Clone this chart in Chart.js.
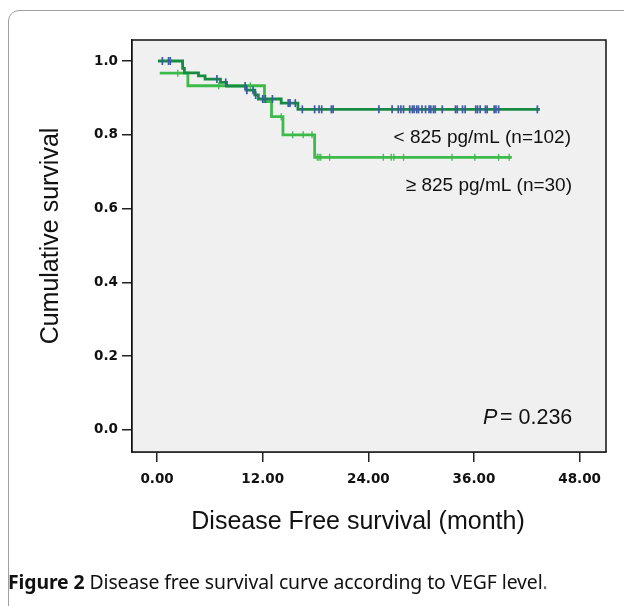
<!DOCTYPE html>
<html>
<head>
<meta charset="utf-8">
<script src="https://cdn.jsdelivr.net/npm/chart.js@4/dist/chart.umd.min.js"></script>
<style>
  html, body { margin: 0; padding: 0; background: #fff; overflow: hidden; }
  #wrap { position: relative; width: 624px; height: 606px; }
  #frame {
    position: absolute; left: 8px; top: 10px; width: 700px; height: 610px;
    border: 1px solid #a0a0a0; border-radius: 11px; box-sizing: border-box;
  }
  #chart { position: absolute; left: 0; top: 0; }
  #caption {
    position: absolute; left: 8px; top: 568px; font-family: "Noto Sans", sans-serif;
    font-size: 19.4px; color: #111; white-space: nowrap; letter-spacing: -0.1px;
  }
  #caption b { font-weight: 700; }
  #caption span { color: #666; }
</style>
</head>
<body>
<div id="wrap">
  <div id="frame"></div>
  <canvas id="chart" width="624" height="606"></canvas>
  <div id="caption"><b>Figure 2</b> Disease free survival curve according to VEGF level<span>.</span></div>
</div>
<script>
// < 825 pg/mL group (n=102): step times (months) and survival after each step
const lowTimes = [0.1, 2.9, 3.1, 4.7, 5.45, 7.2, 7.9, 10.1, 11.1, 11.5, 14.1, 16.0, 43.5];
const lowSurv = [1.0, 0.980, 0.968, 0.960, 0.951, 0.942, 0.932, 0.921, 0.908, 0.897, 0.886, 0.869, 0.869];
const lowCensor = [0.6, 1.3, 1.5, 6.8, 7.8, 10.0, 10.2, 10.9, 11.2, 12.0, 12.3, 13.1, 14.9, 15.1, 15.7,
    16.5, 17.9, 18.4, 18.7, 19.8, 20.0, 25.2, 26.7, 27.4, 27.7, 28.0, 28.7, 29.0, 29.2, 29.5, 29.7,
    30.1, 30.5, 30.9, 31.1, 31.4, 31.6, 32.4, 33.9, 34.1, 34.7, 35.0, 36.2, 36.4, 36.7, 37.3, 37.5,
    38.3, 38.5, 38.8, 43.2];

// >= 825 pg/mL group (n=30)
const highTimes = [0.3, 3.5, 12.2, 13.0, 14.3, 17.9, 40.3];
const highSurv = [0.967, 0.933, 0.890, 0.849, 0.800, 0.739, 0.739];
const highCensor = [2.35, 7.0, 10.6, 14.1, 15.4, 16.6, 17.6, 18.2, 18.4, 18.6, 19.6, 25.7, 26.6,
    26.9, 28.0, 33.5, 36.1, 38.8, 40.0];

const xTicks = [0, 12, 24, 36, 48];
const yTicks = [0, 0.2, 0.4, 0.6, 0.8, 1.0];

// survival level of a curve at time t (censor marks sit on the curve)
function levelAt(times, surv, t) {
    let s = surv[0];
    for (let i = 0; i < times.length; i++) {
        if (times[i] <= t) s = surv[i];
    }
    return s;
}

const lowLine = lowTimes.map((t, i) => ({ x: t, y: lowSurv[i] }));
const highLine = highTimes.map((t, i) => ({ x: t, y: highSurv[i] }));
const lowMarks = lowCensor.map(t => ({ x: t, y: levelAt(lowTimes, lowSurv, t) }));
const highMarks = highCensor.map(t => ({ x: t, y: levelAt(highTimes, highSurv, t) }));

const FONT = "'Liberation Sans', Arial, sans-serif";
const TICKFONT = "'DejaVu Sans', sans-serif";

const plotBox = {
    id: "plotBox",
    beforeDatasetsDraw(chart) {
        const a = chart.chartArea, ctx = chart.ctx;
        ctx.save();
        ctx.fillStyle = "#f0f0f0";
        ctx.fillRect(a.left, a.top, a.right - a.left, a.bottom - a.top);
        ctx.restore();
    },
    afterDraw(chart) {
        const a = chart.chartArea, ctx = chart.ctx;
        ctx.save();
        ctx.strokeStyle = "#111";
        ctx.lineWidth = 1.5;
        ctx.strokeRect(a.left, a.top, a.right - a.left, a.bottom - a.top);

        ctx.fillStyle = "#111";
        ctx.textBaseline = "middle";

        // axis titles
        ctx.textAlign = "center";
        ctx.font = "25px " + FONT;
        ctx.fillText("Disease Free survival (month)", 358, 522);
        ctx.save();
        ctx.translate(51, 236);
        ctx.rotate(-Math.PI / 2);
        ctx.fillText("Cumulative survival", 0, 0);
        ctx.restore();

        ctx.textAlign = "right";
        ctx.font = "19px " + FONT;
        ctx.fillText("< 825 pg/mL (n=102)", 571, 138);
        ctx.fillText("\u2265 825 pg/mL (n=30)", 572, 186);

        ctx.textAlign = "left";
        ctx.font = "italic 21.5px " + FONT;
        ctx.fillText("P", 483, 418);
        ctx.font = "21.5px " + FONT;
        ctx.fillText("= 0.236", 500, 418);
        ctx.restore();
    }
};

new Chart(document.getElementById("chart").getContext("2d"), {
    type: "line",
    data: {
        datasets: [
            {
                type: "scatter", data: lowMarks, showLine: false,
                pointStyle: "line", rotation: 90, pointRadius: 4, borderWidth: 1.7,
                borderColor: "#3d58aa", backgroundColor: "#3d58aa"
            },
            {
                type: "scatter", data: highMarks, showLine: false,
                pointStyle: "line", rotation: 90, pointRadius: 3.5, borderWidth: 1.3,
                borderColor: "#3cba4a", backgroundColor: "#3cba4a"
            },
            {
                data: lowLine, stepped: true, borderColor: "#178a44", borderWidth: 2.8,
                pointRadius: 0, fill: false
            },
            {
                data: highLine, stepped: true, borderColor: "#3cba4a", borderWidth: 2.8,
                pointRadius: 0, fill: false
            }
        ]
    },
    options: {
        responsive: false,
        animation: false,
        devicePixelRatio: 1,
        layout: { padding: { top: 40, right: 18, left: 0, bottom: 0 } },
        plugins: { legend: { display: false }, tooltip: { enabled: false } },
        scales: {
            x: {
                type: "linear", min: -2.85, max: 51,
                afterBuildTicks: s => { s.ticks = xTicks.map(v => ({ value: v })); },
                afterFit: s => { s.height = 154; },
                grid: { drawOnChartArea: false, tickLength: 10, color: "#222", lineWidth: 1.5 },
                border: { display: true, color: "#111", width: 1.5 },
                ticks: {
                    padding: 9, color: "#111", maxRotation: 0,
                    font: { family: TICKFONT, size: 13.5, weight: "bold" },
                    callback: v => Number(v).toFixed(2)
                }
            },
            y: {
                type: "linear", min: -0.06, max: 1.057,
                afterBuildTicks: s => { s.ticks = yTicks.map(v => ({ value: v })); },
                afterFit: s => { s.width = 132; },
                grid: { drawOnChartArea: false, tickLength: 10, color: "#222", lineWidth: 1.5 },
                border: { display: true, color: "#111", width: 1.5 },
                ticks: {
                    padding: 4, color: "#111",
                    font: { family: TICKFONT, size: 13.5, weight: "bold" },
                    callback: v => Number(v).toFixed(1)
                }
            }
        }
    },
    plugins: [plotBox]
});
</script>
</body>
</html>
